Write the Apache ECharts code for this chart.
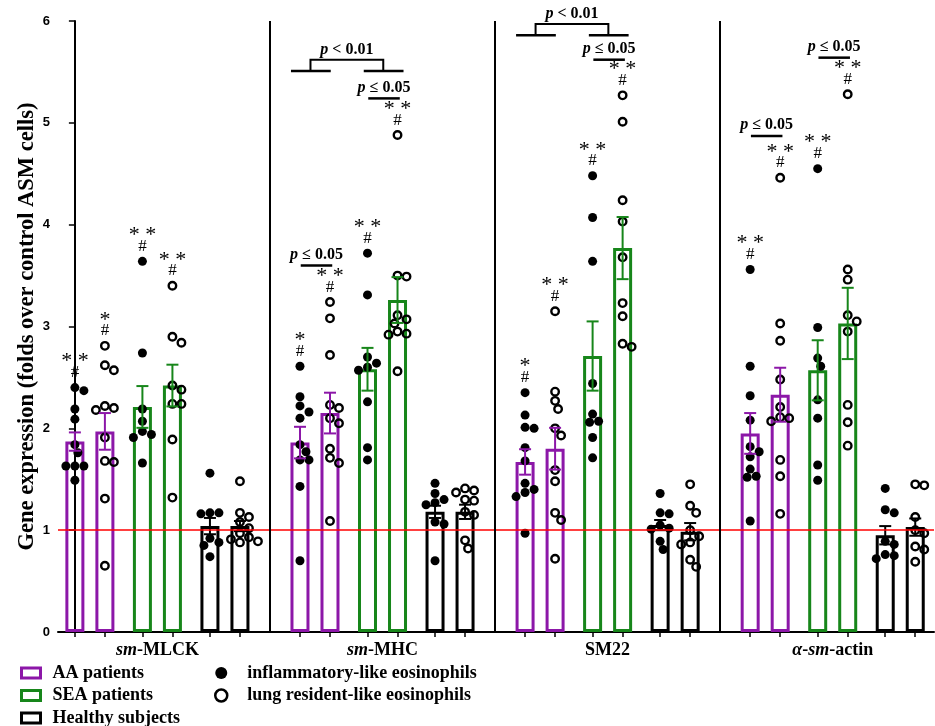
<!DOCTYPE html>
<html><head><meta charset="utf-8">
<script src="https://cdn.jsdelivr.net/npm/echarts@6/dist/echarts.min.js"></script>
<style>html,body{margin:0;padding:0;background:#fff}#c{width:935px;height:726px}</style>
</head><body><div id="c"></div>
<script>
// ---------------- DATA ----------------
const groupLabels = ['sm-MLCK', 'sm-MHC', 'SM22', 'α-sm-actin'];
const barGroups = ['AA patients', 'SEA patients', 'Healthy subjects'];
const cellTypes = ['inflammatory-like eosinophils', 'lung resident-like eosinophils'];
const yTicks = [0, 1, 2, 3, 4, 5, 6];
const yTitle = 'Gene expression (folds over control ASM cells)';
// order inside every gene: AA-infl, AA-lung, SEA-infl, SEA-lung, Healthy-infl, Healthy-lung
const meanMLCK = [1.87, 1.97, 2.21, 2.42, 1.04, 1.04];
const meanMHC = [1.86, 2.15, 2.58, 3.26, 1.18, 1.18];
const meanSM22 = [1.67, 1.80, 2.71, 3.77, 1.05, 0.985];
const meanActin = [1.95, 2.33, 2.57, 3.03, 0.95, 1.03];
const semMLCK = [0.09, 0.18, 0.205, 0.205, 0.08, 0.05];
const semMHC = [0.155, 0.20, 0.21, 0.225, 0.06, 0.07];
const semSM22 = [0.125, 0.205, 0.34, 0.305, 0.05, 0.085];
const semActin = [0.20, 0.265, 0.295, 0.35, 0.09, 0.085];
const ptsMLCK = [
  [2.40, 2.37, 2.19, 2.09, 1.84, 1.76, 1.63, 1.63, 1.63, 1.49],
  [2.81, 2.62, 2.57, 2.22, 2.20, 2.18, 1.91, 1.68, 1.67, 1.31, 0.65],
  [3.64, 2.74, 2.19, 2.07, 1.97, 1.94, 1.91, 1.66],
  [3.40, 2.90, 2.84, 2.42, 2.38, 2.24, 2.24, 1.89, 1.32],
  [1.56, 1.17, 1.17, 1.16, 0.92, 0.88, 0.85, 0.74],
  [1.48, 1.17, 1.13, 1.08, 1.02, 0.97, 0.93, 0.91, 0.89, 0.88]
];
const ptsMHC = [
  [2.61, 2.31, 2.22, 2.16, 2.10, 1.84, 1.77, 1.69, 1.69, 1.43, 0.70],
  [3.24, 3.08, 2.72, 2.23, 2.20, 2.10, 2.05, 1.80, 1.71, 1.66, 1.09],
  [3.72, 3.31, 2.70, 2.64, 2.60, 2.57, 2.26, 1.81, 1.69],
  [4.88, 3.50, 3.49, 3.11, 3.07, 3.03, 2.95, 2.93, 2.92, 2.56],
  [1.46, 1.36, 1.30, 1.27, 1.25, 1.08, 1.06, 0.70],
  [1.41, 1.39, 1.37, 1.30, 1.29, 1.18, 1.15, 0.90, 0.82]
];
const ptsSM22 = [
  [2.35, 2.13, 2.01, 2.00, 1.81, 1.68, 1.46, 1.40, 1.37, 1.33, 0.97],
  [3.15, 2.36, 2.27, 2.19, 2.00, 1.93, 1.59, 1.48, 1.17, 1.10, 0.72],
  [4.48, 4.07, 3.64, 2.44, 2.14, 2.07, 2.06, 1.91, 1.71],
  [5.27, 5.01, 4.24, 4.03, 3.68, 3.23, 3.10, 2.83, 2.80],
  [1.36, 1.17, 1.16, 1.05, 1.02, 1.01, 0.89, 0.81],
  [1.45, 1.24, 1.17, 1.00, 0.94, 0.88, 0.86, 0.71, 0.64]
];
const ptsActin = [
  [3.56, 2.61, 2.32, 2.08, 1.82, 1.77, 1.72, 1.60, 1.53, 1.52, 1.09],
  [4.46, 3.03, 2.86, 2.48, 2.21, 2.11, 2.10, 2.07, 1.69, 1.53, 1.16],
  [4.55, 2.99, 2.69, 2.61, 2.28, 2.10, 1.64, 1.49],
  [5.28, 3.56, 3.46, 3.11, 3.05, 2.95, 2.23, 2.06, 1.83],
  [1.41, 1.20, 1.17, 0.89, 0.86, 0.76, 0.75, 0.72],
  [1.45, 1.44, 1.13, 1.00, 0.97, 0.84, 0.81, 0.69]
];
// significance marks above bars (vs healthy)
const starsMLCK = ['**', '*', '**', '**', '', ''];
const starsMHC = ['*', '**', '**', '**', '', ''];
const starsSM22 = ['*', '**', '**', '**', '', ''];
const starsActin = ['**', '**', '**', '**', '', ''];
// pairwise comparisons: [gene, barA, barB, height, text]
const pairTests = [
  [1, 0, 1, 3.60, '0.05'],
  [1, 2, 3, 5.24, '0.05'],
  [2, 2, 3, 5.62, '0.05'],
  [3, 0, 1, 4.87, '0.05'],
  [3, 2, 3, 5.64, '0.05']
];
// AA vs SEA brackets: [gene, base height, top height, text]
const bracketTests = [
  [1, 5.51, 5.62, '0.01'],
  [2, 5.86, 5.97, '0.01']
];

// ---------------- LAYOUT / STYLE ----------------
const means = [meanMLCK, meanMHC, meanSM22, meanActin];
const sems = [semMLCK, semMHC, semSM22, semActin];
const pts = [ptsMLCK, ptsMHC, ptsSM22, ptsActin];
const stars = [starsMLCK, starsMHC, starsSM22, starsActin];
const PURPLE = '#8C17A8', GREEN = '#17861A', BLACK = '#000000';
const groupColors = [PURPLE, GREEN, BLACK];
const SERIF = "'Liberation Serif', 'Times New Roman', serif";
const SANS = "'Liberation Sans', Arial, sans-serif";
const slotOffsets = [0, 4, 9, 13, 18, 22];
const groupStep = 30;
const X_MIN = -2.25, X_MAX = 114.5;
const GRID = { left: 58, right: 1, top: 21, bottom: 94 };
const PX_X = (935 - GRID.left - GRID.right) / (X_MAX - X_MIN);
const PX_Y = (726 - GRID.top - GRID.bottom) / 6;
function xPos(g, k) { return g * groupStep + slotOffsets[k]; }

// deterministic beeswarm spreading (in pixels) so dots do not overlap
function swarm(vals) {
  const placed = [];
  const out = [];
  const sorted = vals.slice().sort((a, b) => b - a);
  for (const v of sorted) {
    let done = false;
    for (let s = 0; s < 24 && !done; s++) {
      const dx = s === 0 ? 0 : (s % 2 ? 1 : -1) * Math.ceil(s / 2) * 3;
      if (placed.every(p => Math.hypot(p.dx - dx, (p.v - v) * PX_Y) >= 8.6)) {
        placed.push({ dx, v }); out.push([dx, v]); done = true;
      }
    }
    if (!done) { placed.push({ dx: 0, v }); out.push([0, v]); }
  }
  return out;
}

const barSeries = barGroups.map((name, gi) => {
  const data = [];
  for (let g = 0; g < 4; g++) for (let j = 0; j < 2; j++) {
    const k = gi * 2 + j;
    data.push([xPos(g, k), means[g][k]]);
  }
  return {
    name, type: 'bar', data, barWidth: 19, barGap: '-100%', z: 2,
    itemStyle: { color: 'rgba(255,255,255,0)', borderColor: groupColors[gi], borderWidth: 3 },
    emphasis: { disabled: true }, silent: true
  };
});

const scatterData = [[], []];
for (let g = 0; g < 4; g++) for (let k = 0; k < 6; k++) {
  const cell = k % 2;
  swarm(pts[g][k]).forEach(([dx, v]) => scatterData[cell].push([xPos(g, k) + dx / PX_X, v]));
}

const errData = [];
for (let g = 0; g < 4; g++) for (let k = 0; k < 6; k++) errData.push([xPos(g, k), means[g][k], sems[g][k], Math.floor(k / 2)]);

const annots = [];
for (let g = 0; g < 4; g++) for (let k = 0; k < 6; k++) if (stars[g][k]) annots.push({ kind: 'sig', g, k, s: stars[g][k] });
pairTests.forEach(t => annots.push({ kind: 'pair', g: t[0], a: t[1], b: t[2], y: t[3], txt: t[4] }));
bracketTests.forEach(t => annots.push({ kind: 'bracket', g: t[0], y: t[1], top: t[2], txt: t[3] }));

const pRich = {
  i: { fontFamily: SERIF, fontStyle: 'italic', fontWeight: 'bold', fontSize: 16, fill: '#000' },
  b: { fontFamily: SERIF, fontWeight: 'bold', fontSize: 16, fill: '#000' }
};
function pText(x, y, sym, val) {
  return { type: 'text', style: { text: '{i|p}{b| ' + sym + ' ' + val + '}', rich: pRich, x, y, textAlign: 'center', textVerticalAlign: 'middle' } };
}
function ln(x1, y1, x2, y2, w) {
  return { type: 'line', shape: { x1, y1, x2, y2 }, style: { stroke: '#000', lineWidth: w } };
}

function renderAnnot(params, api) {
  const a = annots[params.dataIndex];
  if (a.kind === 'sig') {
    const top = Math.max.apply(null, pts[a.g][a.k]);
    const p = api.coord([xPos(a.g, a.k), top]);
    return { type: 'group', children: [
      { type: 'text', style: { text: '#', x: p[0], y: p[1] - 15, textAlign: 'center', textVerticalAlign: 'middle', fontSize: 17, fontFamily: SERIF, fill: '#000' } },
      { type: 'text', style: { text: a.s === '**' ? '* *' : '*', x: p[0], y: p[1] - 26, textAlign: 'center', textVerticalAlign: 'middle', fontSize: 22, fontFamily: SERIF, fill: '#000' } }
    ] };
  }
  if (a.kind === 'pair') {
    const p1 = api.coord([xPos(a.g, a.a) + 0.1, a.y]);
    const p2 = api.coord([xPos(a.g, a.b) + 0.3, a.y]);
    return { type: 'group', children: [
      ln(p1[0], p1[1], p2[0], p2[1], 2.5),
      pText((p1[0] + p2[0]) / 2, p1[1] - 11, '≤', a.txt)
    ] };
  }
  // bracket
  const base0 = xPos(a.g, 0);
  const lA = api.coord([base0 - 1.2, a.y]), lB = api.coord([base0 + 4.1, a.y]);
  const rA = api.coord([base0 + 8.5, a.y]), rB = api.coord([base0 + 13.8, a.y]);
  const legL = api.coord([base0 + 1.4, a.top]), legR = api.coord([base0 + 11.1, a.top]);
  return { type: 'group', children: [
    ln(lA[0], lA[1], lB[0], lB[1], 2.5),
    ln(rA[0], rA[1], rB[0], rB[1], 2.5),
    { type: 'polyline', shape: { points: [[legL[0], lA[1]], [legL[0], legL[1]], [legR[0], legR[1]], [legR[0], lA[1]]] }, style: { stroke: '#000', lineWidth: 2, fill: null } },
    pText((legL[0] + legR[0]) / 2, legL[1] - 10, '<', a.txt)
  ] };
}

function renderErr(params, api) {
  const x = api.value(0), m = api.value(1), s = api.value(2), c = groupColors[api.value(3)];
  const t = api.coord([x, m + s]), b = api.coord([x, m - s]);
  const hw = 6;
  const st = { stroke: c, lineWidth: 2 };
  return { type: 'group', children: [
    { type: 'line', shape: { x1: t[0], y1: t[1], x2: b[0], y2: b[1] }, style: st },
    { type: 'line', shape: { x1: t[0] - hw, y1: t[1], x2: t[0] + hw, y2: t[1] }, style: st },
    { type: 'line', shape: { x1: b[0] - hw, y1: b[1], x2: b[0] + hw, y2: b[1] }, style: st }
  ] };
}

function richLabel(s) {
  if (s.indexOf('-') < 0) return '{b|' + s + '}';
  return s.split('-').map((t, i) => (i ? '{b|-}' : '') + ((t === 'sm' || t === 'α') ? '{i|' + t + '}' : '{b|' + t + '}')).join('');
}
const groupCenters = groupLabels.map((_, g) => (xPos(g, 0) + xPos(g, 5)) / 2);
const tickPositions = [];
for (let g = 0; g < 4; g++) for (let k = 0; k < 6; k++) tickPositions.push(xPos(g, k));
const separators = [1, 2, 3].map(g => (xPos(g - 1, 5) + xPos(g, 0)) / 2);

barSeries[0].markLine = {
  silent: true, symbol: 'none', label: { show: false },
  data: [{ yAxis: 1, lineStyle: { color: '#ff0000', width: 1.5, type: 'solid' } }]
    .concat(separators.map(x => [{ coord: [x, 0], lineStyle: { color: '#000', width: 2, type: 'solid' } }, { coord: [x, 6] }]))
};

const legendText = { fontFamily: SERIF, fontWeight: 'bold', fontSize: 18, color: '#000', lineHeight: 22 };
const option = {
  animation: false,
  backgroundColor: '#fff',
  grid: GRID,
  xAxis: {
    type: 'value', min: X_MIN, max: X_MAX,
    axisLine: { show: true, lineStyle: { color: '#000', width: 2 } },
    splitLine: { show: false },
    axisTick: { show: true, customValues: tickPositions, length: 5, lineStyle: { color: '#000', width: 1.5 } },
    axisLabel: {
      customValues: groupCenters, margin: 9,
      formatter: v => richLabel(groupLabels[Math.round((v - groupCenters[0]) / groupStep)]),
      rich: {
        i: { fontFamily: SERIF, fontStyle: 'italic', fontWeight: 'bold', fontSize: 18, color: '#000' },
        b: { fontFamily: SERIF, fontWeight: 'bold', fontSize: 18, color: '#000' }
      }
    }
  },
  yAxis: {
    type: 'value', min: yTicks[0], max: yTicks[yTicks.length - 1], interval: 1,
    name: yTitle, nameLocation: 'middle', nameGap: 19, nameMoveOverlap: false,
    nameTextStyle: { fontFamily: SERIF, fontWeight: 'bold', fontSize: 22.5, color: '#000' },
    axisLine: { show: true, lineStyle: { color: '#000', width: 2 } },
    axisTick: { show: true, length: 6, lineStyle: { color: '#000', width: 1.5 } },
    axisLabel: { fontFamily: SANS, fontWeight: 'bold', fontSize: 13, color: '#000', margin: 8 },
    splitLine: { show: false }
  },
  legend: [
    {
      orient: 'vertical', left: 20, top: 662, height: 120, padding: 0, itemWidth: 19, itemHeight: 10, itemGap: 0.5,
      icon: 'rect', selectedMode: false,
      textStyle: Object.assign({ padding: [0, 0, 0, 7] }, legendText),
      data: barGroups.map((n, i) => ({ name: n, itemStyle: { color: '#fff', borderColor: groupColors[i], borderWidth: 3 } }))
    },
    {
      orient: 'vertical', left: 214, top: 662, height: 120, padding: 0, itemWidth: 14, itemHeight: 12, itemGap: 0.5,
      selectedMode: false,
      textStyle: Object.assign({ padding: [0, 0, 0, 14] }, legendText),
      data: [
        { name: cellTypes[0], icon: 'circle', itemStyle: { color: '#000', borderWidth: 0 } },
        { name: cellTypes[1], icon: 'circle', itemStyle: { color: '#fff', borderColor: '#000', borderWidth: 2.5 } }
      ]
    }
  ],
  series: barSeries.concat([
    {
      name: cellTypes[0], type: 'scatter', data: scatterData[0], symbol: 'circle', symbolSize: 9, z: 3,
      itemStyle: { color: '#000', opacity: 1 }, silent: true
    },
    {
      name: cellTypes[1], type: 'scatter', data: scatterData[1], symbol: 'circle', symbolSize: 7.5, z: 3,
      itemStyle: { color: 'rgba(255,255,255,0)', borderColor: '#000', borderWidth: 2.4, opacity: 1 }, silent: true
    },
    { name: 'err', type: 'custom', data: errData, renderItem: renderErr, z: 4, silent: true, clip: false },
    { name: 'annot', type: 'custom', data: annots.map((a, i) => [0, 0]), renderItem: renderAnnot, z: 5, silent: true, clip: false }
  ])
};
const chart = echarts.init(document.getElementById('c'), null, { renderer: 'canvas' });
chart.setOption(option);
</script>
</body></html>
